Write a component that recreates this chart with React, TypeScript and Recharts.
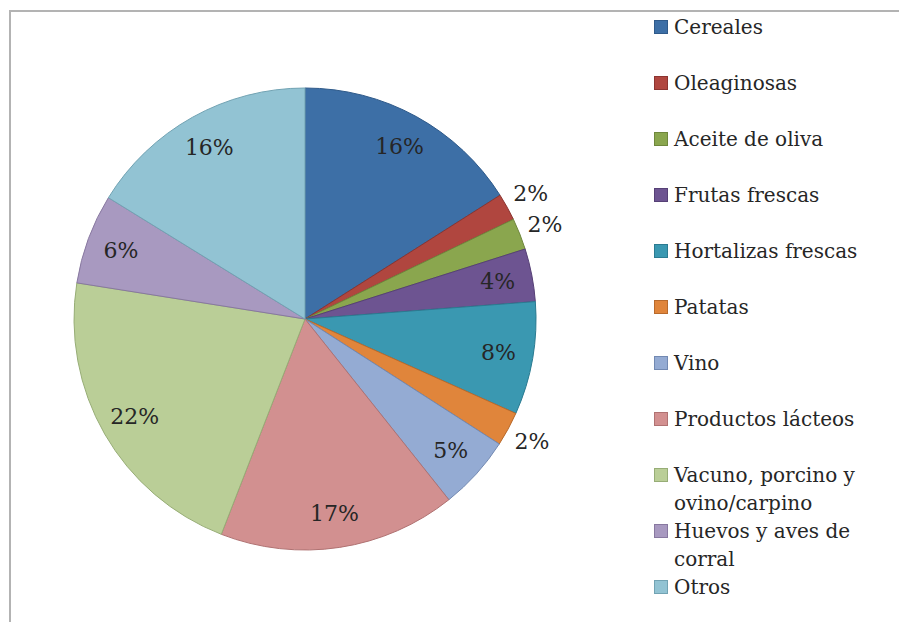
import { Cell, Legend, Pie, PieChart } from "recharts";

const CATEGORIES = [
  "Cereales",
  "Oleaginosas",
  "Aceite de oliva",
  "Frutas frescas",
  "Hortalizas frescas",
  "Patatas",
  "Vino",
  "Productos lácteos",
  "Vacuno, porcino y ovino/carpino",
  "Huevos y aves de corral",
  "Otros",
];

const SHARES = [16.0, 1.9, 2.2, 3.7, 7.9, 2.4, 5.2, 16.6, 21.6, 6.3, 16.2];

const FILLS = [
  "#3d6fa6",
  "#b0463f",
  "#8aa64e",
  "#6d5491",
  "#3a98b1",
  "#e0853b",
  "#94abd3",
  "#d29090",
  "#bace97",
  "#a899c0",
  "#92c3d3",
];

const STROKES = [
  "#2f5a8a",
  "#8c3430",
  "#6f873c",
  "#564076",
  "#2b7b91",
  "#b86a2c",
  "#7289b2",
  "#b07272",
  "#97ad76",
  "#8878a0",
  "#72a3b3",
];

const data = CATEGORIES.map((name, i) => ({ name, value: SHARES[i] }));

const FONT = "'DejaVu Serif', serif";
const TEXT = "#262626";
const RAD = Math.PI / 180;

const renderLabel = (props: any) => {
  const { cx, cy, midAngle, outerRadius, percent } = props;
  const small = percent < 0.03;
  const r = small ? outerRadius + 27 : outerRadius * 0.85;
  const x = cx + r * Math.cos(-midAngle * RAD);
  const y = cy + r * Math.sin(-midAngle * RAD);
  return (
    <text
      x={x}
      y={y}
      fill={TEXT}
      textAnchor="middle"
      dominantBaseline="central"
      style={{ fontFamily: FONT, fontSize: 22 }}
    >
      {`${Math.round(percent * 100)}%`}
    </text>
  );
};

const renderLegend = (props: any) => {
  const items = [...(props.payload || [])].sort(
    (a: any, b: any) => CATEGORIES.indexOf(a.value) - CATEGORIES.indexOf(b.value)
  );
  return (
    <div style={{ fontFamily: FONT, fontSize: 20, color: TEXT, lineHeight: "28px" }}>
      {items.map((entry: any) => {
        const i = CATEGORIES.indexOf(entry.value);
        return (
          <div
            key={entry.value}
            style={{ height: 56, paddingTop: 14, boxSizing: "border-box", display: "flex", alignItems: "flex-start" }}
          >
            <span
              style={{
                width: 12,
                height: 12,
                marginTop: 7,
                marginRight: 6,
                flex: "none",
                background: FILLS[i],
                border: `1.5px solid ${STROKES[i]}`,
              }}
            />
            <span style={{ width: 205 }}>{entry.value}</span>
          </div>
        );
      })}
    </div>
  );
};

export default function App() {
  return (
    <div style={{ position: "absolute", left: 0, top: 0, width: 899, height: 622, background: "#fff" }}>
      <div
        style={{
          position: "absolute",
          left: 9,
          top: 10,
          width: 900,
          height: 620,
          borderTop: "2px solid #b3b3b3",
          borderLeft: "2px solid #b3b3b3",
        }}
      />
      <div style={{ position: "absolute", left: 0, top: 0 }}>
        <PieChart width={899} height={622} margin={{ top: 0, right: 0, bottom: 0, left: 0 }}>
          <Pie
            data={data}
            dataKey="value"
            nameKey="name"
            cx={305}
            cy={319}
            outerRadius={231}
            startAngle={90}
            endAngle={-270}
            label={renderLabel}
            labelLine={false}
            isAnimationActive={false}
          >
            {data.map((_, i) => (
              <Cell key={i} fill={FILLS[i]} stroke={STROKES[i]} strokeWidth={1} />
            ))}
          </Pie>
          <Legend
            content={renderLegend}
            wrapperStyle={{ position: "absolute", left: 654, top: -1, width: 240 }}
          />
        </PieChart>
      </div>
    </div>
  );
}
